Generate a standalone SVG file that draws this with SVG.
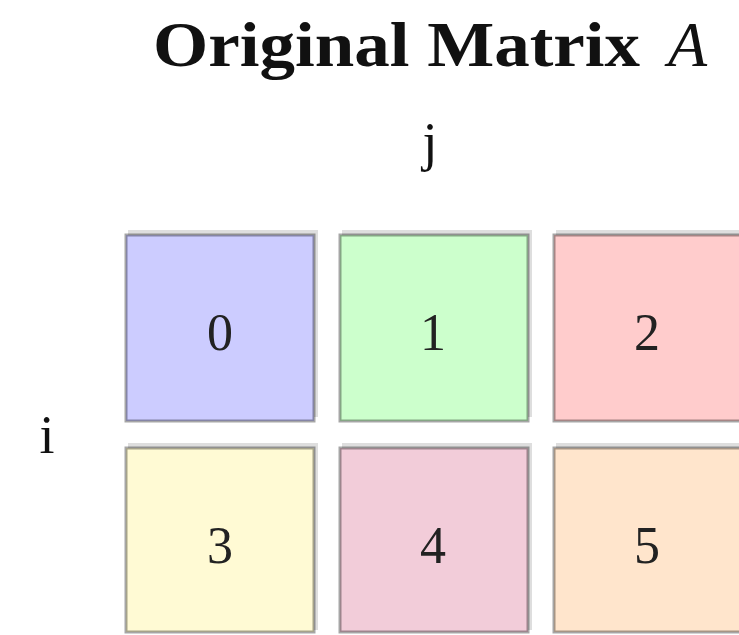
<svg xmlns="http://www.w3.org/2000/svg" width="739" height="635" viewBox="0 0 739 635">
<style>
.t{font-family:"Liberation Serif","DejaVu Serif",serif;fill:#111}
.cell{stroke:#000;stroke-opacity:0.35;stroke-width:3}
.sh{fill:#000;fill-opacity:0.13}
.num{font-family:"Liberation Serif","DejaVu Serif",serif;font-size:52px;fill:#222;text-anchor:middle}
</style>
<rect width="739" height="635" fill="#fff"/>
<g id="title"><text class="t" x="153" y="66" font-size="64" font-weight="bold"><tspan textLength="487" lengthAdjust="spacingAndGlyphs">Original Matrix</tspan><tspan x="668" font-style="italic" font-weight="normal">A</tspan></text></g>
<g id="label-j"><text class="t" x="430" y="160" font-size="54" text-anchor="middle">j</text></g>
<g id="label-i"><text class="t" x="47" y="453" font-size="54" text-anchor="middle">i</text></g>
<g id="cell0"><rect class="sh" x="128" y="230" width="190" height="187"/><rect class="cell" x="126" y="235" width="188" height="186" fill="#ccccff"/><text class="num" x="220" y="350">0</text></g>
<g id="cell1"><rect class="sh" x="342" y="230" width="190" height="187"/><rect class="cell" x="340" y="235" width="188" height="186" fill="#ccffcc"/><text class="num" x="433" y="350">1</text></g>
<g id="cell2"><rect class="sh" x="556" y="230" width="190" height="187"/><rect class="cell" x="554" y="235" width="188" height="186" fill="#ffcccc"/><text class="num" x="647" y="350">2</text></g>
<g id="cell3"><rect class="sh" x="128" y="443" width="190" height="187"/><rect class="cell" x="126" y="448" width="188" height="184" fill="#fffad4"/><text class="num" x="220" y="563">3</text></g>
<g id="cell4"><rect class="sh" x="342" y="443" width="190" height="187"/><rect class="cell" x="340" y="448" width="188" height="184" fill="#f2ccd9"/><text class="num" x="433" y="563">4</text></g>
<g id="cell5"><rect class="sh" x="556" y="443" width="190" height="187"/><rect class="cell" x="554" y="448" width="188" height="184" fill="#ffe5cc"/><text class="num" x="647" y="563">5</text></g>
<g id="connectors"></g>
</svg>
